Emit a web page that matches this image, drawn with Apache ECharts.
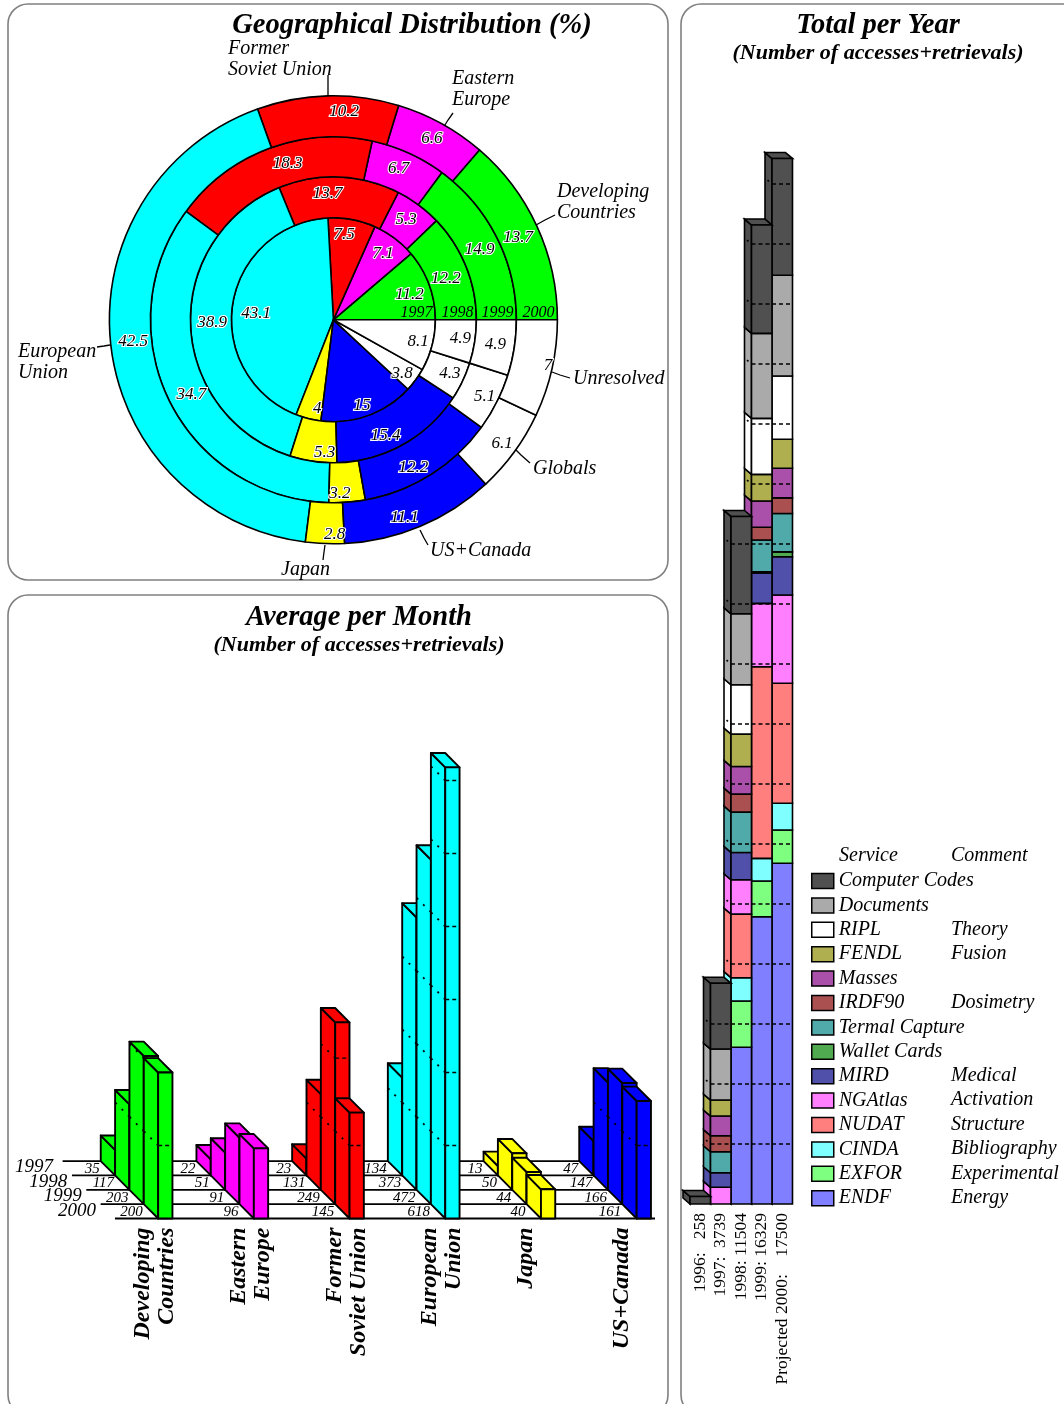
<!DOCTYPE html>
<html><head><meta charset="utf-8">
<style>html,body{margin:0;padding:0;background:#fff}#c{width:1064px;height:1404px}</style>
<script src="https://cdn.jsdelivr.net/npm/echarts@6/dist/echarts.min.js"></script>
</head><body><div id="c"></div>
<script>
// ---------- Geographical distribution (%)
const regionNames = ['Developing\nCountries','Eastern\nEurope','Former\nSoviet Union','European\nUnion','Japan','US+Canada','Globals','Unresolved'];
const share1997 = [11.2,7.1,7.5,43.1,4,15,3.8,8.1];
const share1998 = [12.2,5.3,13.7,38.9,5.3,15.4,4.3,4.9];
const share1999 = [14.9,6.7,18.3,34.7,3.2,12.2,5.1,4.9];
const share2000 = [13.7,6.6,10.2,42.5,2.8,11.1,6.1,7];
// ---------- Average per month
const monthYears = ['1997','1998','1999','2000'];
const monthRegions = ['Developing\nCountries','Eastern\nEurope','Former\nSoviet Union','European\nUnion','Japan\n ','US+Canada\n '];
const monthDeveloping = [35,117,203,200];
const monthEastern = [22,51,91,96];
const monthFormer = [23,131,249,145];
const monthEuropean = [134,373,472,618];
const monthJapan = [13,50,44,40];
const monthUS = [47,147,166,161];
// ---------- Total per year (columns 1996..2000)
const yearLabels = ['1996:   258','1997:  3739','1998: 11504','1999: 16329','Projected 2000:    17500'];
const endf     = [0,0,2612,4788,5678];
const exfor    = [0,0,772,595,555];
const cinda    = [0,0,388,378,445];
const nudat    = [0,0,1060,3193,2000];
const ngatlas  = [0,278,572,1057,1472];
const mird     = [0,243,455,505,638];
const wallet   = [0,0,0,22,80];
const termal   = [0,350,673,528,640];
const irdf90   = [0,267,300,212,260];
const masses   = [0,328,460,438,495];
const fendl    = [0,267,540,445,483];
const ripl     = [0,0,822,933,1055];
const documents= [0,850,1183,1417,1678];
const codes    = [125,1095,1622,1805,1945];
const serviceNames = ['ENDF','EXFOR','CINDA','NUDAT','NGAtlas','MIRD','Wallet Cards','Termal Capture','IRDF90','Masses','FENDL','RIPL','Documents','Computer Codes'];
const serviceValues = [endf,exfor,cinda,nudat,ngatlas,mird,wallet,termal,irdf90,masses,fendl,ripl,documents,codes];
const serviceComments = ['Energy','Experimental','Bibliography','Structure','Activation','Medical','','','Dosimetry','','Fusion','Theory','',''];

// ---------- styles / layout
const SERIF = '"Liberation Serif","Times New Roman",serif';
const serviceColors = ['#7f7fff','#7fff7f','#7fffff','#ff7f7f','#ff7fff','#5050aa','#50aa50','#50aaaa','#aa5050','#aa50aa','#afaf50','#ffffff','#aaaaaa','#505050'];
const regionColors = ['#00ff00','#ff00ff','#ff0000','#00ffff','#ffff00','#0000ff','#ffffff','#ffffff'];
const PIE_C = [333.4,319.8];
const RINGS = [[0,102],[102,143],[143,183],[183,224]];
const NAME_POS = {
  'Developing\nCountries':[557,202],'Eastern\nEurope':[452,89],'Former\nSoviet Union':[228,59],'European\nUnion':[18,362],
  'Japan':[281,570],'US+Canada':[430,551],'Globals':[533,469],'Unresolved':[573,379]};
const LEADERS = {
  'Developing\nCountries':[[536,225],[545,220],[555,215]],'Eastern\nEurope':[[443,128],[448,120],[453,113]],
  'Former\nSoviet Union':[[328,96],[328,85],[328,75]],'European\nUnion':[[110,345],[104,346],[97,347]],
  'Japan':[[325,545],[324,552],[323,560]],'US+Canada':[[420,530],[424,538],[428,545]],
  'Globals':[[513,447],[521,455],[530,463]],'Unresolved':[[552,372],[560,375],[570,378]]};
const LABEL_NUDGE = [
  [[-5,5],[-2,3],[-5,0],[8,8],[5,5],[-1,5],[-1,3],[1,0]],
  [[-4,6],[-2,1],[-11,-1],[4,-2],[9,8],[-9,6],[3,0],[3,-1]],
  [[-2,5],[-3,0],[13,-1],[7,2],[-6,8],[-8,7],[3,2],[-2,-1]],
  [[-3,4],[-1,0],[16,-2],[5,-1],[9,8],[-9,7],[2,2],[13,1]]
];

const series = [];
// pie rings
[share1997,share1998,share1999,share2000].forEach((vals,ri)=>{
  series.push({
    type:'pie', silent:true, center:PIE_C, radius:RINGS[ri], startAngle:0, clockwise:false,
    avoidLabelOverlap:false, animation:false, minAngle:0,
    z:2,
    itemStyle:{borderColor:'#000',borderWidth:1.6},
    label:{show:true,position:'inside',formatter:'{c}',fontFamily:SERIF,fontStyle:'italic',fontSize:17,color:'#000',textBorderColor:'#fff',textBorderWidth:2.2},
    labelLine:{show:false},
    labelLayout:function(p){
      const n=LABEL_NUDGE[ri][p.dataIndex];
      if(ri>0) return {dx:n[0],dy:n[1]};
      const r=p.labelRect; const mx=r.x+r.width/2-PIE_C[0], my=r.y+r.height/2-PIE_C[1];
      return {dx:mx*0.6+n[0], dy:my*0.6+n[1]};
    },
    data: regionNames.map((n,i)=>({name:n,value:vals[i],itemStyle:{color:regionColors[i]}}))
  });
});
// outside region names with leader lines
series.push({
  type:'pie', silent:true, center:PIE_C, radius:[224,224], startAngle:0, clockwise:false,
  avoidLabelOverlap:false, animation:false, z:1,
  itemStyle:{color:'transparent',borderWidth:0},
  label:{show:true,position:'outside',formatter:'{b}',fontFamily:SERIF,fontStyle:'italic',fontSize:20,lineHeight:21,color:'#000',align:'left'},
  labelLine:{show:true,length:10,length2:0,lineStyle:{color:'#000',width:1.3}},
  labelLayout:function(p){
    const n=regionNames[p.dataIndex];
    const pos=NAME_POS[n]||[0,0];
    return {x:pos[0],y:pos[1],align:'left',verticalAlign:'middle',labelLinePoints:LEADERS[n]};
  },
  data: regionNames.map((n,i)=>({name:n,value:share2000[i]}))
});

// ---------- 3D month bars (grid 1)
const ROW=14.35, BARW=14.3, SHIFT=10.3;
function monthRender(color){
  return function(params,api){
    const cat=api.value(0), row=api.value(1), v=api.value(2);
    const off=(row-3)*ROW;
    const top=api.coord([cat,v]), base=api.coord([cat,0]);
    const xl=top[0]+SHIFT-BARW/2+off, xr=xl+BARW, yt=top[1]+off, yb=base[1]+off;
    const st={fill:color,stroke:'#000',lineWidth:1.9,lineJoin:'round'};
    const z=10+row*2;
    const kids=[
      {type:'polygon',z2:z,shape:{points:[[xl,yt],[xl,yb],[xl-ROW,yb-ROW],[xl-ROW,yt-ROW]]},style:st},
      {type:'polygon',z2:z,shape:{points:[[xl,yt],[xr,yt],[xr-ROW,yt-ROW],[xl-ROW,yt-ROW]]},style:st},
      {type:'rect',z2:z,shape:{x:xl,y:yt,width:BARW,height:yb-yt},style:st},
      {type:'text',z2:5,style:{x:xl-ROW-1,y:yb-6.5,text:String(v),align:'right',verticalAlign:'middle',font:'italic 15px '+SERIF,fill:'#000'}}
    ];
    for(let k=100;k<v;k+=100){
      const g=api.coord([cat,k])[1]+off;
      kids.push({type:'line',z2:z+1,shape:{x1:xl,y1:g,x2:xr,y2:g},style:{stroke:'#000',lineWidth:1.4,lineDash:[4,3]}});
      kids.push({type:'line',z2:z+1,shape:{x1:xl,y1:g,x2:xl-ROW,y2:g-ROW},style:{stroke:'#000',lineWidth:1.8,lineDash:[2,7]}});
    }
    return {type:'group',children:kids};
  };
}
[monthDeveloping,monthEastern,monthFormer,monthEuropean,monthJapan,monthUS].forEach((vals,ci)=>{
  series.push({
    type:'custom', xAxisIndex:1, yAxisIndex:1, silent:true, animation:false, clip:false,
    encode:{x:0,y:2}, renderItem:monthRender(regionColors[ci]),
    data: vals.map((v,r)=>[ci,r,v])
  });
});
// floor lines + year labels of the 3D bars
series.push({
  type:'custom', xAxisIndex:1, yAxisIndex:1, silent:true, animation:false, clip:false,
  encode:{x:0,y:1},
  renderItem:function(params,api){
    const row=api.value(2);
    const off=(row-3)*ROW;
    const a=api.coord([0,0]), b=api.coord([5,0]);
    const x1=a[0]-40+off, x2=b[0]+21.5+off, y=a[1]+off;
    const kids=[{type:'line',z2:1,shape:{x1:row<0?x1+5:x1,y1:y,x2:x2,y2:y},style:{stroke:'#000',lineWidth:1.8}}];
    if(row>=0) kids.push({type:'text',z2:5,style:{x:x1-19,y:y-8,text:monthYears[row],align:'right',verticalAlign:'middle',font:'italic 19px '+SERIF,fill:'#000'}});
    return {type:'group',children:kids};
  },
  data:[[0,0,-1],[0,0,0],[0,0,1],[0,0,2],[0,0,3]]
});

// ---------- stacked 3D total-per-year columns (grid 0)
const DX=7, DY=6;
const colTotals=yearLabels.map((_,c)=>serviceValues.reduce((s,a)=>s+a[c],0));
function stackRender(color){
  return function(params,api){
    const col=api.value(0), s=api.value(1), e=api.value(2), isTop=api.value(3);
    const w=api.size([1,0])[0];
    const p0=api.coord([col,s]), p1=api.coord([col,e]);
    const xl=p0[0]-w/2, xr=p0[0]+w/2, yb=p0[1], yt=p1[1];
    const z=(4-col)*10+10;
    const st={fill:color,stroke:'#000',lineWidth:1.6};
    const kids=[
      {type:'polygon',z2:z,shape:{points:[[xl,yt],[xl,yb],[xl-DX,yb-DY],[xl-DX,yt-DY]]},style:st},
      {type:'rect',z2:z+1,shape:{x:xl,y:yt,width:w,height:yb-yt},style:st}
    ];
    if(isTop) kids.push({type:'polygon',z2:z,shape:{points:[[xl,yt],[xr,yt],[xr-DX,yt-DY],[xl-DX,yt-DY]]},style:st});
    return {type:'group',children:kids};
  };
}
serviceNames.forEach((name,si)=>{
  const data=[];
  yearLabels.forEach((_,c)=>{
    const v=serviceValues[si][c];
    if(!v) return;
    let start=0;
    for(let k=0;k<si;k++) start+=serviceValues[k][c];
    let above=0;
    for(let k=si+1;k<serviceNames.length;k++) above+=serviceValues[k][c];
    data.push([c,start,start+v,above===0?1:0]);
  });
  series.push({
    name, type:'custom', xAxisIndex:0, yAxisIndex:0, silent:true, animation:false, clip:false,
    itemStyle:{color:serviceColors[si]},
    encode:{x:0,y:[1,2]}, renderItem:stackRender(serviceColors[si]), data
  });
});
// dashed 1000-unit grid lines seen across the columns
const gridData=[];
colTotals.forEach((t,c)=>{ for(let k=1000;k<t;k+=1000) gridData.push([c,k]); });
series.push({
  type:'custom', xAxisIndex:0, yAxisIndex:0, silent:true, animation:false, clip:false,
  encode:{x:0,y:1},
  renderItem:function(params,api){
    const col=api.value(0), v=api.value(1);
    const w=api.size([1,0])[0], p=api.coord([col,v]);
    const xl=p[0]-w/2, xr=p[0]+w/2, z=(4-col)*10+12;
    return {type:'group',children:[
      {type:'line',z2:z,shape:{x1:xl,y1:p[1],x2:xr,y2:p[1]},style:{stroke:'#000',lineWidth:1.6,lineDash:[4,3]}},
      {type:'line',z2:z-2,shape:{x1:xl-3,y1:p[1]-2.6,x2:xl-4.5,y2:p[1]-3.9},style:{stroke:'#000',lineWidth:1.6}}
    ]};
  },
  data:gridData
});

// ---------- frames, headers
const graphic=[
  {type:'rect',silent:true,z:-1,shape:{x:8,y:4,width:660,height:576,r:20},style:{fill:'none',stroke:'#808080',lineWidth:1.6}},
  {type:'rect',silent:true,z:-1,shape:{x:8,y:595,width:660,height:820,r:20},style:{fill:'none',stroke:'#808080',lineWidth:1.6}},
  {type:'rect',silent:true,z:-1,shape:{x:681,y:4,width:420,height:1411,r:20},style:{fill:'none',stroke:'#808080',lineWidth:1.6}}
];
monthYears.forEach((y,i)=>{
  graphic.push({type:'text',silent:true,z:10,style:{x:PIE_C[0]+RINGS[i][1]-3,y:312.5,text:y,align:'right',verticalAlign:'middle',font:'italic 16px '+SERIF,fill:'#000'}});
});
const legendRow=i=>880.5+24.4*i;
graphic.push({type:'text',silent:true,style:{x:839,y:856,text:'Service',verticalAlign:'middle',font:'italic 20px '+SERIF,fill:'#000'}});
graphic.push({type:'text',silent:true,style:{x:951,y:856,text:'Comment',verticalAlign:'middle',font:'italic 20px '+SERIF,fill:'#000'}});
serviceComments.slice().reverse().forEach((t,i)=>{
  if(t) graphic.push({type:'text',silent:true,style:{x:951,y:legendRow(i),text:t,verticalAlign:'middle',font:'italic 20px '+SERIF,fill:'#000'}});
});

const titleMain={fontFamily:SERIF,fontStyle:'italic',fontWeight:'bold',fontSize:28.5,color:'#000'};
const titleSub={fontFamily:SERIF,fontStyle:'italic',fontWeight:'bold',fontSize:22,color:'#000'};
const option={
  backgroundColor:'#fff',
  animation:false,
  title:[
    {text:'Geographical Distribution (%)',left:412,top:11,textAlign:'center',textStyle:titleMain,padding:0},
    {text:'Total per Year',left:878,top:11,textAlign:'center',textStyle:titleMain,padding:0},
    {text:'(Number of accesses+retrievals)',left:878,top:42,textAlign:'center',textStyle:titleSub,padding:0},
    {text:'Average per Month',left:359,top:603,textAlign:'center',textStyle:titleMain,padding:0},
    {text:'(Number of accesses+retrievals)',left:359,top:634,textAlign:'center',textStyle:titleSub,padding:0}
  ],
  legend:{
    orient:'vertical',left:811,top:871,padding:0,itemWidth:22,itemHeight:15,itemGap:4.4,selectedMode:false,
    icon:'rect',align:'left',
    data:serviceNames.slice().reverse(),
    itemStyle:{borderColor:'#000',borderWidth:1.5},
    textStyle:{fontFamily:SERIF,fontStyle:'italic',fontSize:20,color:'#000'}
  },
  grid:[
    {left:690,top:124,width:102.5,height:1080,containLabel:false},
    {left:107.15,top:707.5,width:574.2,height:511,containLabel:false}
  ],
  xAxis:[
    {type:'category',gridIndex:0,data:yearLabels,axisLine:{show:false},axisTick:{show:false},splitLine:{show:false},
     axisLabel:{interval:0,rotate:90,margin:9,fontFamily:SERIF,fontSize:17.5,color:'#000',padding:[4,0,0,0]}},
    {type:'category',gridIndex:1,data:monthRegions,axisLine:{show:false},axisTick:{show:false},splitLine:{show:false},
     axisLabel:{interval:0,rotate:90,margin:9,fontFamily:SERIF,fontStyle:'italic',fontWeight:'bold',fontSize:24,lineHeight:24,color:'#000',align:'right',verticalAlign:'middle'}}
  ],
  yAxis:[
    {type:'value',gridIndex:0,min:0,max:18000,interval:1000,show:false},
    {type:'value',gridIndex:1,min:0,max:700,interval:100,show:false}
  ],
  graphic,
  series
};
const chart=echarts.init(document.getElementById('c'),null,{renderer:'canvas',width:1064,height:1404});
chart.setOption(option);
</script></body></html>
